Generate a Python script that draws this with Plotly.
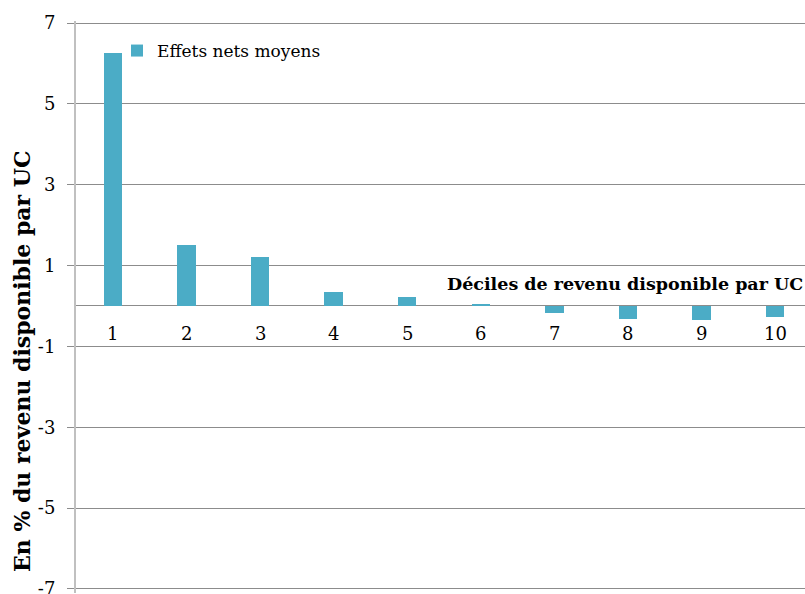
import plotly.graph_objects as go

categories = [1, 2, 3, 4, 5, 6, 7, 8, 9, 10]
values = [6.27, 1.50, 1.22, 0.34, 0.22, 0.05, -0.17, -0.31, -0.35, -0.28]
series_name = "Effets nets moyens"
y_ticks = [-7, -5, -3, -1, 1, 3, 5, 7]
x_title = "Déciles de revenu disponible par UC"
y_title = "En % du revenu disponible par UC"

FONT = "DejaVu Serif"
GRID = "#8c8c8c"
L, R, T, B = 76, 805, 21, 593

def px_x(p):
    return (p - L) / (R - L)

def px_y(p):
    return (B - p) / (B - T)

fig = go.Figure()
fig.add_trace(go.Bar(
    x=categories, y=values, name=series_name,
    marker=dict(color="#4BACC6", line=dict(width=0)),
    width=0.25, showlegend=True,
))

annotations = []
for c in categories:
    annotations.append(dict(
        x=c, y=0, xref="x", yref="y", text=str(c), showarrow=False,
        yshift=-28, font=dict(family=FONT, size=18, color="#000000"),
    ))
annotations.append(dict(
    x=1, y=0, xref="paper", yref="y", text="<b>" + x_title + "</b>",
    showarrow=False, xanchor="right", yanchor="middle", yshift=22,
    font=dict(family=FONT, size=17.5, color="#000000"),
))
annotations.append(dict(
    x=px_x(22), y=px_y(361), xref="paper", yref="paper", text="<b>" + y_title + "</b>",
    showarrow=False, textangle=-90, xanchor="center", yanchor="middle",
    font=dict(family=FONT, size=22, color="#000000"),
))

fig.update_layout(
    width=805, height=594,
    margin=dict(l=L, r=805 - R, t=T, b=594 - B, pad=0, autoexpand=False),
    paper_bgcolor="white", plot_bgcolor="white",
    font=dict(family=FONT, size=18, color="#000000"),
    bargap=0,
    showlegend=True,
    legend=dict(
        x=px_x(117), y=px_y(33),
        xanchor="left", yanchor="top",
        bgcolor="rgba(0,0,0,0)", font=dict(family=FONT, size=17),
        itemwidth=30,
    ),
    xaxis=dict(
        range=[0.5, 10.405], showticklabels=False, showgrid=False,
        zeroline=False, showline=False, ticks="", automargin=False,
    ),
    yaxis=dict(
        range=[-7.1, 7.05], tickvals=y_ticks, ticktext=[str(v) for v in y_ticks],
        showgrid=True, gridcolor=GRID, gridwidth=1.2,
        zeroline=True, zerolinecolor=GRID, zerolinewidth=1,
        showline=True, linecolor="#c0c0c0", linewidth=2,
        ticks="outside", ticklen=7, tickcolor=GRID,
        tickfont=dict(family=FONT, size=18), ticklabelstandoff=8,
        ticklabeloverflow="allow",
        automargin=False,
    ),
    annotations=annotations,
)

fig.write_html("out.html", config={"displayModeBar": False},
               post_script="document.body.style.margin='0';document.body.style.overflow='hidden';")
